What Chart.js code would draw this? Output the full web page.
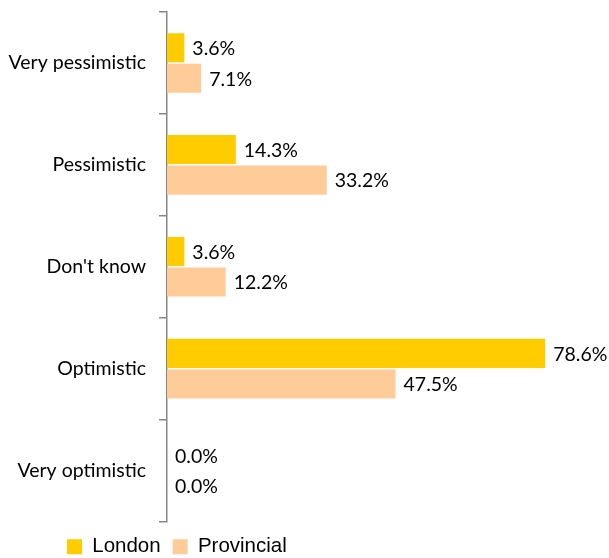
<!DOCTYPE html>
<html>
<head>
<meta charset="utf-8">
<title>Outlook: London vs Provincial</title>
<script src="https://cdn.jsdelivr.net/npm/chart.js@4.4.0/dist/chart.umd.min.js"></script>
<style>
  html, body { margin: 0; padding: 0; background: #fff; }
  canvas { display: block; }
</style>
</head>
<body>
<canvas id="outlookChart" width="609" height="558"></canvas>
<script>
const categories = ['Very pessimistic', 'Pessimistic', "Don't know", 'Optimistic', 'Very optimistic'];
const seriesNames = ['London', 'Provincial'];
const londonValues = [3.6, 14.3, 3.6, 78.6, 0.0];
const provincialValues = [7.1, 33.2, 12.2, 47.5, 0.0];

const labelFont = "Lato, 'Open Sans', sans-serif";

// percentage written just past the end of each bar
const valueLabels = {
  id: 'valueLabels',
  afterDatasetsDraw(chart) {
    const ctx = chart.ctx;
    ctx.save();
    ctx.font = '19.5px ' + labelFont;
    ctx.fillStyle = '#000';
    ctx.textAlign = 'left';
    ctx.textBaseline = 'middle';
    chart.data.datasets.forEach(function (ds, i) {
      chart.getDatasetMeta(i).data.forEach(function (bar, j) {
        ctx.fillText(ds.data[j].toFixed(1) + '%', bar.x + 8, bar.y + 1);
      });
    });
    ctx.restore();
  }
};

// move the legend in from the left edge and a little lower
const legendShift = {
  id: 'legendShift',
  afterLayout(chart) {
    const lg = chart.legend;
    lg.left += 55;
    lg.right += 55;
    lg.top += 3;
    lg.bottom += 3;
  }
};

new Chart(document.getElementById('outlookChart'), {
  type: 'bar',
  data: {
    labels: categories,
    datasets: [
      {
        label: seriesNames[0],
        data: londonValues,
        backgroundColor: '#FFCC00',
        categoryPercentage: 0.6,
        barPercentage: 0.95
      },
      {
        label: seriesNames[1],
        data: provincialValues,
        backgroundColor: '#FFCC99',
        categoryPercentage: 0.6,
        barPercentage: 0.95
      }
    ]
  },
  options: {
    indexAxis: 'y',
    responsive: false,
    animation: false,
    layout: { padding: { top: 12, right: 9, left: 0, bottom: -6 } },
    scales: {
      x: {
        display: false,
        min: 0,
        max: 90
      },
      y: {
        afterFit(scale) {
          scale.width = 167;
          scale.paddingTop = 0;
          scale.paddingBottom = 0;
        },
        border: { display: true, color: '#868686', width: 1.5 },
        grid: {
          drawOnChartArea: false,
          drawTicks: true,
          tickLength: 8,
          color: '#868686',
          lineWidth: 1.5
        },
        ticks: {
          padding: 13,
          color: '#000',
          font: { family: labelFont, size: 19.5 }
        }
      }
    },
    plugins: {
      legend: {
        position: 'bottom',
        align: 'start',
        labels: {
          boxWidth: 15,
          boxHeight: 15,
          padding: 12,
          color: '#000',
          font: { family: "'Liberation Sans', Arial, sans-serif", size: 20.5 }
        }
      },
      tooltip: { enabled: false }
    }
  },
  plugins: [valueLabels, legendShift]
});
</script>
</body>
</html>
